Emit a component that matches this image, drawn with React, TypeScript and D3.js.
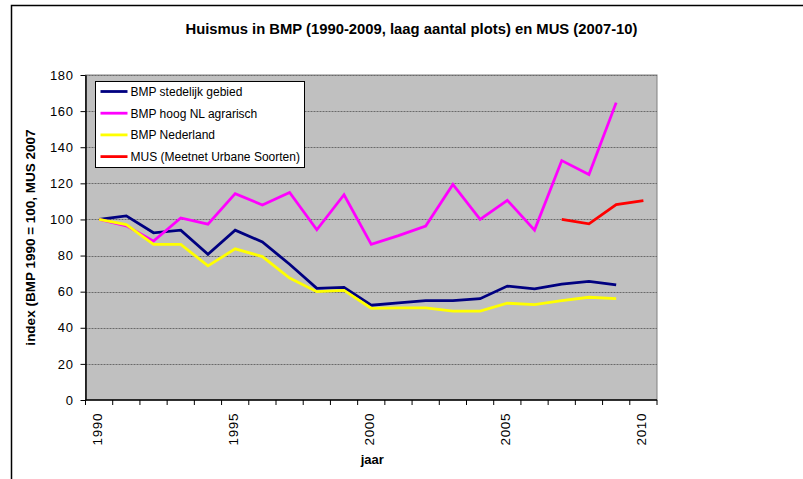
import React, { Component } from "react";
import * as d3 from "d3";

// categories (years) and series values
const years = ["1990", "1991", "1992", "1993", "1994", "1995", "1996", "1997", "1998", "1999", "2000",
    "2001", "2002", "2003", "2004", "2005", "2006", "2007", "2008", "2009", "2010"];
const yearLabels = ["1990", "1995", "2000", "2005", "2010"];
const yTicks = [0, 20, 40, 60, 80, 100, 120, 140, 160, 180];

const stedelijk = [100, 102, 92.6, 94.1, 80.7, 94.1, 87.5, 75.2, 61.8, 62.4, 52.5,
    53.8, 55, 55, 56.1, 63.1, 61.6, 64.2, 65.7, 63.7, null];
const hoogNL = [100, 96.5, 88, 100.8, 97.4, 114.3, 108, 114.9, 94.3, 113.7, 86.2,
    91, 96.3, 119.4, 100, 110.6, 94.1, 132.6, 124.9, 164.7, null];
const nederland = [100, 97.2, 86.2, 86.2, 74.3, 83.7, 79.4, 67.5, 60, 60.7, 50.8,
    51, 51, 49.2, 49.2, 53.6, 52.8, 55, 56.9, 56.1, null];
const mus = [null, null, null, null, null, null, null, null, null, null, null,
    null, null, null, null, null, null, 100, 97.6, 108.2, 110.4];

const series = [
    { name: "BMP stedelijk gebied", color: "#000080", values: stedelijk },
    { name: "BMP hoog NL agrarisch", color: "#FF00FF", values: hoogNL },
    { name: "BMP Nederland", color: "#FFFF00", values: nederland },
    { name: "MUS (Meetnet Urbane Soorten)", color: "#FF0000", values: mus },
];

const FONT = "'Liberation Sans', Arial, sans-serif";

class App extends Component {
    svgRef = React.createRef<SVGSVGElement>();

    componentDidMount() {
        this.draw();
    }

    draw() {
        const W = 803, H = 479;
        const plot = { left: 85.5, right: 657, top: 75, bottom: 400 };

        const svg = d3.select(this.svgRef.current).attr("width", W).attr("height", H);
        svg.selectAll("*").remove();

        svg.append("rect").attr("width", W).attr("height", H).attr("fill", "#fff");

        // outer chart frame (only top and left visible)
        svg.append("path")
            .attr("d", `M11.5,${H} V5.5 H${W}`)
            .attr("fill", "none").attr("stroke", "#000").attr("stroke-width", 1.5);

        const x = d3.scaleBand().domain(years).range([plot.left, plot.right]);
        const y = d3.scaleLinear().domain([0, 180]).range([plot.bottom, plot.top]);
        const cx = (d) => x(d) + x.bandwidth() / 2;

        // plot area
        svg.append("rect")
            .attr("x", plot.left).attr("y", plot.top)
            .attr("width", plot.right - plot.left).attr("height", plot.bottom - plot.top)
            .attr("fill", "#C0C0C0").attr("stroke", "#808080").attr("stroke-width", 1);

        // gridlines
        svg.append("g").selectAll("line")
            .data(yTicks.filter(t => t > 0))
            .join("line")
            .attr("x1", plot.left).attr("x2", plot.right)
            .attr("y1", d => Math.round(y(d)) + 0.5).attr("y2", d => Math.round(y(d)) + 0.5)
            .attr("stroke", "#6a6a6a").attr("stroke-dasharray", "2,1");

        // y axis
        const yAxis = svg.append("g")
            .attr("transform", `translate(${plot.left},0)`)
            .call(d3.axisLeft(y).tickValues(yTicks).tickSize(5).tickSizeOuter(0).tickPadding(7));
        yAxis.select(".domain").attr("stroke", "#000").attr("stroke-width", 1.5);
        yAxis.selectAll(".tick line").attr("stroke", "#000");
        yAxis.selectAll("text")
            .style("font-family", FONT).style("font-size", "13px").style("letter-spacing", "0.6px")
            .attr("fill", "#000");

        // x axis: line, ticks between categories, rotated labels
        svg.append("line")
            .attr("x1", plot.left).attr("x2", plot.right)
            .attr("y1", plot.bottom).attr("y2", plot.bottom)
            .attr("stroke", "#000").attr("stroke-width", 1.5);
        const tickPos = years.map(d => x(d)).concat([plot.right]);
        svg.append("g").selectAll("line")
            .data(tickPos)
            .join("line")
            .attr("x1", d => d).attr("x2", d => d)
            .attr("y1", plot.bottom).attr("y2", plot.bottom + 5)
            .attr("stroke", "#000");
        svg.append("g").selectAll("text")
            .data(yearLabels)
            .join("text")
            .attr("transform", d => `translate(${cx(d) + 3},${plot.bottom + 13}) rotate(-90)`)
            .attr("text-anchor", "end")
            .style("font-family", FONT).style("font-size", "13.5px").style("letter-spacing", "0.6px")
            .text(d => d);

        // series lines
        const line = d3.line()
            .defined(d => d[1] != null)
            .x(d => cx(d[0]))
            .y(d => y(d[1]));
        svg.append("g").selectAll("path")
            .data(series)
            .join("path")
            .attr("d", s => line(years.map((yr, i) => [yr, s.values[i]])))
            .attr("fill", "none")
            .attr("stroke", s => s.color)
            .attr("stroke-width", 2.8)
            .attr("stroke-linejoin", "miter");

        // legend
        const lg = svg.append("g").attr("transform", "translate(95.5,81.5)");
        lg.append("rect").attr("width", 209).attr("height", 86)
            .attr("fill", "#fff").attr("stroke", "#000");
        const items = lg.selectAll(".item").data(series).join("g").attr("class", "item")
            .attr("transform", (d, i) => `translate(0,${10 + i * 21.7})`);
        items.append("line").attr("x1", 5).attr("x2", 32).attr("y1", 0).attr("y2", 0)
            .attr("stroke", d => d.color).attr("stroke-width", 2.8);
        items.append("text").attr("x", 35).attr("y", 4.5)
            .style("font-family", FONT).style("font-size", "12px")
            .text(d => d.name);

        // title
        svg.append("text")
            .attr("x", 411.5).attr("y", 34)
            .attr("text-anchor", "middle")
            .style("font-family", FONT).style("font-size", "14.8px").style("font-weight", "bold")
            .text("Huismus in BMP (1990-2009, laag aantal plots) en MUS (2007-10)");

        // axis titles
        svg.append("text")
            .attr("transform", `translate(35,${(plot.top + plot.bottom) / 2}) rotate(-90)`)
            .attr("text-anchor", "middle")
            .style("font-family", FONT).style("font-size", "13.5px").style("font-weight", "bold")
            .text("index (BMP 1990 = 100, MUS 2007");
        svg.append("text")
            .attr("x", (plot.left + plot.right) / 2 + 1).attr("y", 464)
            .attr("text-anchor", "middle")
            .style("font-family", FONT).style("font-size", "13px").style("font-weight", "bold")
            .text("jaar");
    }

    render() {
        return (
            <svg ref={this.svgRef} style={{ position: "absolute", left: 0, top: 0, display: "block" }}></svg>
        );
    }
}

export default App;
